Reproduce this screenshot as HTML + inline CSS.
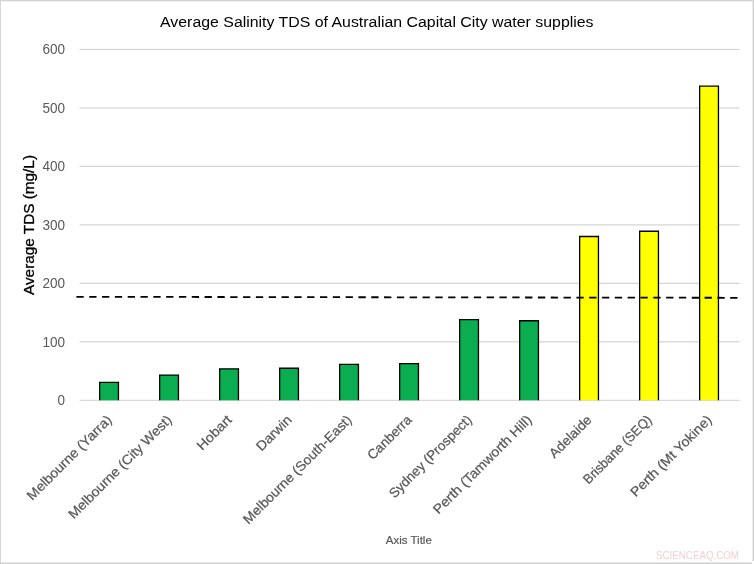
<!DOCTYPE html>
<html lang="en"><head><meta charset="utf-8"><title>Average Salinity TDS of Australian Capital City water supplies</title>
<style>html,body{margin:0;padding:0;background:#fff;}body{width:754px;height:564px;overflow:hidden;}svg{display:block;will-change:transform;}text{font-family:"Liberation Sans",sans-serif;}</style></head><body>
<svg width="754" height="564" viewBox="0 0 754 564">
<rect x="0" y="0" width="754" height="564" fill="#ffffff"/>
<rect x="0" y="0" width="752.6" height="1.3" fill="#d4d4d4"/>
<rect x="0" y="0" width="1" height="564" fill="#d6d6d6"/>
<rect x="752.6" y="0" width="1.4" height="561" fill="#d0d0d0"/>
<rect x="0" y="562.5" width="752" height="1.5" fill="#d0d0d0"/>
<rect x="79.5" y="341.23" width="660.0" height="1.2" fill="#d4d4d4"/>
<rect x="79.5" y="282.76" width="660.0" height="1.2" fill="#d4d4d4"/>
<rect x="79.5" y="224.29" width="660.0" height="1.2" fill="#d4d4d4"/>
<rect x="79.5" y="165.82" width="660.0" height="1.2" fill="#d4d4d4"/>
<rect x="79.5" y="107.35" width="660.0" height="1.2" fill="#d4d4d4"/>
<rect x="79.5" y="48.88" width="660.0" height="1.2" fill="#d4d4d4"/>
<rect x="79.5" y="399.80" width="660.0" height="1" fill="#d0d0d0"/>
<path d="M99.65 400.30V382.45H118.45V400.30" fill="#0aae50" stroke="#000" stroke-width="1.3" stroke-linejoin="miter"/>
<path d="M159.65 400.30V375.05H178.45V400.30" fill="#0aae50" stroke="#000" stroke-width="1.3" stroke-linejoin="miter"/>
<path d="M219.65 400.30V368.85H238.45V400.30" fill="#0aae50" stroke="#000" stroke-width="1.3" stroke-linejoin="miter"/>
<path d="M279.65 400.30V368.25H298.45V400.30" fill="#0aae50" stroke="#000" stroke-width="1.3" stroke-linejoin="miter"/>
<path d="M339.65 400.30V364.45H358.45V400.30" fill="#0aae50" stroke="#000" stroke-width="1.3" stroke-linejoin="miter"/>
<path d="M399.65 400.30V363.55H418.45V400.30" fill="#0aae50" stroke="#000" stroke-width="1.3" stroke-linejoin="miter"/>
<path d="M459.65 400.30V319.65H478.45V400.30" fill="#0aae50" stroke="#000" stroke-width="1.3" stroke-linejoin="miter"/>
<path d="M519.65 400.30V320.75H538.45V400.30" fill="#0aae50" stroke="#000" stroke-width="1.3" stroke-linejoin="miter"/>
<path d="M579.65 400.30V236.50H598.45V400.30" fill="#ffff00" stroke="#000" stroke-width="1.3" stroke-linejoin="miter"/>
<path d="M639.65 400.30V231.25H658.45V400.30" fill="#ffff00" stroke="#000" stroke-width="1.3" stroke-linejoin="miter"/>
<path d="M699.65 400.30V86.15H718.45V400.30" fill="#ffff00" stroke="#000" stroke-width="1.3" stroke-linejoin="miter"/>
<line x1="76.4" y1="296.8" x2="737.6" y2="297.8" stroke="#000" stroke-width="1.8" stroke-dasharray="7.3 5.52"/>
<text x="65.1" y="405.20" font-size="14" fill="#595959" text-anchor="end" textLength="7.5" lengthAdjust="spacingAndGlyphs">0</text>
<text x="65.1" y="346.73" font-size="14" fill="#595959" text-anchor="end" textLength="22.6" lengthAdjust="spacingAndGlyphs">100</text>
<text x="65.1" y="288.26" font-size="14" fill="#595959" text-anchor="end" textLength="22.6" lengthAdjust="spacingAndGlyphs">200</text>
<text x="65.1" y="229.79" font-size="14" fill="#595959" text-anchor="end" textLength="22.6" lengthAdjust="spacingAndGlyphs">300</text>
<text x="65.1" y="171.32" font-size="14" fill="#595959" text-anchor="end" textLength="22.6" lengthAdjust="spacingAndGlyphs">400</text>
<text x="65.1" y="112.85" font-size="14" fill="#595959" text-anchor="end" textLength="22.6" lengthAdjust="spacingAndGlyphs">500</text>
<text x="65.1" y="54.38" font-size="14" fill="#595959" text-anchor="end" textLength="22.6" lengthAdjust="spacingAndGlyphs">600</text>
<text x="376.8" y="27.0" font-size="15.2" fill="#000" text-anchor="middle" textLength="433.5" lengthAdjust="spacingAndGlyphs">Average Salinity TDS of Australian Capital City water supplies</text>
<text transform="translate(33.6 225) rotate(-90)" font-size="15.5" fill="#000" stroke="#000" stroke-width="0.3" text-anchor="middle" textLength="140" lengthAdjust="spacingAndGlyphs">Average TDS (mg/L)</text>
<text transform="translate(112.55 420.70) rotate(-45)" font-size="13.4" fill="#595959" stroke="#595959" stroke-width="0.25" text-anchor="end" textLength="113.4" lengthAdjust="spacingAndGlyphs">Melbourne (Yarra)</text>
<text transform="translate(172.55 420.70) rotate(-45)" font-size="13.4" fill="#595959" stroke="#595959" stroke-width="0.25" text-anchor="end" textLength="139.7" lengthAdjust="spacingAndGlyphs">Melbourne (City West)</text>
<text transform="translate(232.55 420.70) rotate(-45)" font-size="13.4" fill="#595959" stroke="#595959" stroke-width="0.25" text-anchor="end" textLength="42.9" lengthAdjust="spacingAndGlyphs">Hobart</text>
<text transform="translate(292.55 420.70) rotate(-45)" font-size="13.4" fill="#595959" stroke="#595959" stroke-width="0.25" text-anchor="end" textLength="44.0" lengthAdjust="spacingAndGlyphs">Darwin</text>
<text transform="translate(352.55 420.70) rotate(-45)" font-size="13.4" fill="#595959" stroke="#595959" stroke-width="0.25" text-anchor="end" textLength="147.0" lengthAdjust="spacingAndGlyphs">Melbourne (South-East)</text>
<text transform="translate(412.55 420.70) rotate(-45)" font-size="13.4" fill="#595959" stroke="#595959" stroke-width="0.25" text-anchor="end" textLength="56.4" lengthAdjust="spacingAndGlyphs">Canberra</text>
<text transform="translate(472.55 420.70) rotate(-45)" font-size="13.4" fill="#595959" stroke="#595959" stroke-width="0.25" text-anchor="end" textLength="110.4" lengthAdjust="spacingAndGlyphs">Sydney (Prospect)</text>
<text transform="translate(532.55 420.70) rotate(-45)" font-size="13.4" fill="#595959" stroke="#595959" stroke-width="0.25" text-anchor="end" textLength="133.0" lengthAdjust="spacingAndGlyphs">Perth (Tamworth Hill)</text>
<text transform="translate(592.55 420.70) rotate(-45)" font-size="13.4" fill="#595959" stroke="#595959" stroke-width="0.25" text-anchor="end" textLength="53.8" lengthAdjust="spacingAndGlyphs">Adelaide</text>
<text transform="translate(652.55 420.70) rotate(-45)" font-size="13.4" fill="#595959" stroke="#595959" stroke-width="0.25" text-anchor="end" textLength="90.5" lengthAdjust="spacingAndGlyphs">Brisbane (SEQ)</text>
<text transform="translate(712.55 420.70) rotate(-45)" font-size="13.4" fill="#595959" stroke="#595959" stroke-width="0.25" text-anchor="end" textLength="108.6" lengthAdjust="spacingAndGlyphs">Perth (Mt Yokine)</text>
<text x="408.8" y="544.3" font-size="11.6" fill="#595959" stroke="#595959" stroke-width="0.2" text-anchor="middle" textLength="46" lengthAdjust="spacingAndGlyphs">Axis Title</text>
<text x="697.5" y="558.9" font-size="11" fill="#f2cfd5" text-anchor="middle" textLength="83" lengthAdjust="spacingAndGlyphs">SCIENCEAQ.COM</text>
</svg></body></html>
